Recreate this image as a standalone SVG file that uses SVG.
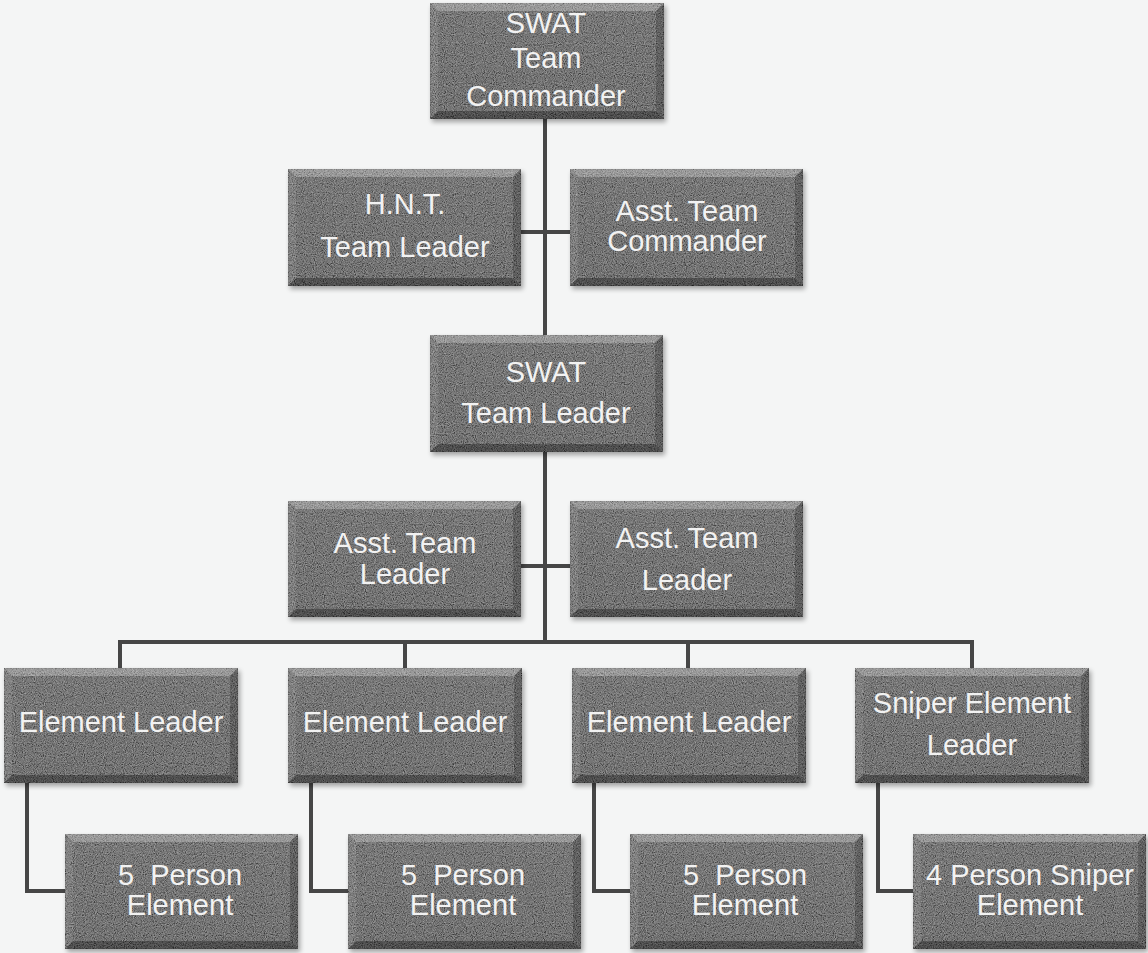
<svg xmlns="http://www.w3.org/2000/svg" width="1148" height="953" viewBox="0 0 1148 953">
<defs>
<filter id="grain" x="0" y="0" width="1" height="1">
<feTurbulence type="fractalNoise" baseFrequency="0.9" numOctaves="2" seed="4" result="n"/>
<feColorMatrix in="n" type="matrix" values="0.7 0.7 0 0 -0.42  0.7 0.7 0 0 -0.42  0.7 0.7 0 0 -0.42  0 0 0 0 0.45" result="g"/>
<feComposite in="g" in2="SourceGraphic" operator="in" result="gi"/>
<feMerge><feMergeNode in="SourceGraphic"/><feMergeNode in="gi"/></feMerge>
</filter>
<filter id="shadow" x="-10%" y="-10%" width="120%" height="130%">
<feGaussianBlur stdDeviation="2.5"/>
</filter>
<linearGradient id="fillg" x1="0" y1="0" x2="0" y2="1">
<stop offset="0" stop-color="#606060"/>
<stop offset="1" stop-color="#4e4e4e"/>
</linearGradient>
</defs>
<style>
.bg{fill:#f4f5f5}
.sh{fill:#000;opacity:0.35;filter:url(#shadow)}
.box{fill:url(#fillg);stroke:#333333;stroke-width:1.5;filter:url(#grain)}
.bt{fill:#ffffff;opacity:0.25}
.bl{fill:#ffffff;opacity:0.08}
.br{fill:#000000;opacity:0.18}
.bb{fill:#000000;opacity:0.30}
.lbl{font-family:"Liberation Sans",Arial,sans-serif;font-size:29px;fill:#f2f2f2;text-anchor:middle}
.con{fill:none;stroke:#464646;stroke-width:4;stroke-linejoin:miter}
</style>
<rect class="bg" x="0" y="0" width="1148" height="953"/>

<g id="connectors">
<path class="con" d="M545,119 V335 M545,452 V643"/>
<path class="con" d="M521,232 H570"/>
<path class="con" d="M521,566 H570"/>
<path class="con" d="M120,668 V642 H972 V668 M405,642 V668 M688,642 V668"/>
<path class="con" d="M27,783 V891 H65"/>
<path class="con" d="M311,783 V891 H348"/>
<path class="con" d="M594,783 V891 H630"/>
<path class="con" d="M878,783 V891 H913"/>
</g>

<g id="n-team-commander">
<rect class="sh" x="432" y="6" width="234" height="116"/>
<rect class="box" x="430" y="3" width="234" height="116"/>
<path class="bt" d="M430,3 h234 l-8,8 h-218 z"/>
<path class="bl" d="M430,3 l8,8 v100 l-8,8 z"/>
<path class="br" d="M664,3 l-8,8 v100 l8,8 z"/>
<path class="bb" d="M430,119 l8,-8 h218 l8,8 z"/>
<text class="lbl" x="546" y="33">SWAT</text>
<text class="lbl" x="546" y="68">Team</text>
<text class="lbl" x="546" y="106">Commander</text>
</g>

<g id="n-hnt">
<rect class="sh" x="290" y="172" width="233" height="117"/>
<rect class="box" x="288" y="169" width="233" height="117"/>
<path class="bt" d="M288,169 h233 l-8,8 h-217 z"/>
<path class="bl" d="M288,169 l8,8 v101 l-8,8 z"/>
<path class="br" d="M521,169 l-8,8 v101 l8,8 z"/>
<path class="bb" d="M288,286 l8,-8 h217 l8,8 z"/>
<text class="lbl" x="405" y="214">H.N.T.</text>
<text class="lbl" x="405" y="257">Team Leader</text>
</g>

<g id="n-asst-commander">
<rect class="sh" x="572" y="172" width="233" height="117"/>
<rect class="box" x="570" y="169" width="233" height="117"/>
<path class="bt" d="M570,169 h233 l-8,8 h-217 z"/>
<path class="bl" d="M570,169 l8,8 v101 l-8,8 z"/>
<path class="br" d="M803,169 l-8,8 v101 l8,8 z"/>
<path class="bb" d="M570,286 l8,-8 h217 l8,8 z"/>
<text class="lbl" x="687" y="221">Asst. Team</text>
<text class="lbl" x="687" y="251">Commander</text>
</g>

<g id="n-team-leader">
<rect class="sh" x="432" y="338" width="233" height="117"/>
<rect class="box" x="430" y="335" width="233" height="117"/>
<path class="bt" d="M430,335 h233 l-8,8 h-217 z"/>
<path class="bl" d="M430,335 l8,8 v101 l-8,8 z"/>
<path class="br" d="M663,335 l-8,8 v101 l8,8 z"/>
<path class="bb" d="M430,452 l8,-8 h217 l8,8 z"/>
<text class="lbl" x="546" y="382">SWAT</text>
<text class="lbl" x="546" y="423">Team Leader</text>
</g>

<g id="n-asst-leader-1">
<rect class="sh" x="290" y="504" width="233" height="116"/>
<rect class="box" x="288" y="501" width="233" height="116"/>
<path class="bt" d="M288,501 h233 l-8,8 h-217 z"/>
<path class="bl" d="M288,501 l8,8 v100 l-8,8 z"/>
<path class="br" d="M521,501 l-8,8 v100 l8,8 z"/>
<path class="bb" d="M288,617 l8,-8 h217 l8,8 z"/>
<text class="lbl" x="405" y="553">Asst. Team</text>
<text class="lbl" x="405" y="584">Leader</text>
</g>

<g id="n-asst-leader-2">
<rect class="sh" x="572" y="504" width="233" height="116"/>
<rect class="box" x="570" y="501" width="233" height="116"/>
<path class="bt" d="M570,501 h233 l-8,8 h-217 z"/>
<path class="bl" d="M570,501 l8,8 v100 l-8,8 z"/>
<path class="br" d="M803,501 l-8,8 v100 l8,8 z"/>
<path class="bb" d="M570,617 l8,-8 h217 l8,8 z"/>
<text class="lbl" x="687" y="548">Asst. Team</text>
<text class="lbl" x="687" y="590">Leader</text>
</g>

<g id="n-element-leader-1">
<rect class="sh" x="6" y="671" width="234" height="115"/>
<rect class="box" x="4" y="668" width="234" height="115"/>
<path class="bt" d="M4,668 h234 l-8,8 h-218 z"/>
<path class="bl" d="M4,668 l8,8 v99 l-8,8 z"/>
<path class="br" d="M238,668 l-8,8 v99 l8,8 z"/>
<path class="bb" d="M4,783 l8,-8 h218 l8,8 z"/>
<text class="lbl" x="121" y="732">Element Leader</text>
</g>

<g id="n-element-leader-2">
<rect class="sh" x="290" y="671" width="234" height="115"/>
<rect class="box" x="288" y="668" width="234" height="115"/>
<path class="bt" d="M288,668 h234 l-8,8 h-218 z"/>
<path class="bl" d="M288,668 l8,8 v99 l-8,8 z"/>
<path class="br" d="M522,668 l-8,8 v99 l8,8 z"/>
<path class="bb" d="M288,783 l8,-8 h218 l8,8 z"/>
<text class="lbl" x="405" y="732">Element Leader</text>
</g>

<g id="n-element-leader-3">
<rect class="sh" x="574" y="671" width="234" height="115"/>
<rect class="box" x="572" y="668" width="234" height="115"/>
<path class="bt" d="M572,668 h234 l-8,8 h-218 z"/>
<path class="bl" d="M572,668 l8,8 v99 l-8,8 z"/>
<path class="br" d="M806,668 l-8,8 v99 l8,8 z"/>
<path class="bb" d="M572,783 l8,-8 h218 l8,8 z"/>
<text class="lbl" x="689" y="732">Element Leader</text>
</g>

<g id="n-sniper-leader">
<rect class="sh" x="857" y="671" width="234" height="115"/>
<rect class="box" x="855" y="668" width="234" height="115"/>
<path class="bt" d="M855,668 h234 l-8,8 h-218 z"/>
<path class="bl" d="M855,668 l8,8 v99 l-8,8 z"/>
<path class="br" d="M1089,668 l-8,8 v99 l8,8 z"/>
<path class="bb" d="M855,783 l8,-8 h218 l8,8 z"/>
<text class="lbl" x="972" y="713">Sniper Element</text>
<text class="lbl" x="972" y="755">Leader</text>
</g>

<g id="n-element-1">
<rect class="sh" x="67" y="837" width="233" height="115"/>
<rect class="box" x="65" y="834" width="233" height="115"/>
<path class="bt" d="M65,834 h233 l-8,8 h-217 z"/>
<path class="bl" d="M65,834 l8,8 v99 l-8,8 z"/>
<path class="br" d="M298,834 l-8,8 v99 l8,8 z"/>
<path class="bb" d="M65,949 l8,-8 h217 l8,8 z"/>
<text class="lbl" x="180" y="885" xml:space="preserve">5  Person</text>
<text class="lbl" x="180" y="915">Element</text>
</g>

<g id="n-element-2">
<rect class="sh" x="350" y="837" width="233" height="115"/>
<rect class="box" x="348" y="834" width="233" height="115"/>
<path class="bt" d="M348,834 h233 l-8,8 h-217 z"/>
<path class="bl" d="M348,834 l8,8 v99 l-8,8 z"/>
<path class="br" d="M581,834 l-8,8 v99 l8,8 z"/>
<path class="bb" d="M348,949 l8,-8 h217 l8,8 z"/>
<text class="lbl" x="463" y="885" xml:space="preserve">5  Person</text>
<text class="lbl" x="463" y="915">Element</text>
</g>

<g id="n-element-3">
<rect class="sh" x="632" y="837" width="233" height="115"/>
<rect class="box" x="630" y="834" width="233" height="115"/>
<path class="bt" d="M630,834 h233 l-8,8 h-217 z"/>
<path class="bl" d="M630,834 l8,8 v99 l-8,8 z"/>
<path class="br" d="M863,834 l-8,8 v99 l8,8 z"/>
<path class="bb" d="M630,949 l8,-8 h217 l8,8 z"/>
<text class="lbl" x="745" y="885" xml:space="preserve">5  Person</text>
<text class="lbl" x="745" y="915">Element</text>
</g>

<g id="n-sniper-element">
<rect class="sh" x="915" y="837" width="233" height="115"/>
<rect class="box" x="913" y="834" width="233" height="115"/>
<path class="bt" d="M913,834 h233 l-8,8 h-217 z"/>
<path class="bl" d="M913,834 l8,8 v99 l-8,8 z"/>
<path class="br" d="M1146,834 l-8,8 v99 l8,8 z"/>
<path class="bb" d="M913,949 l8,-8 h217 l8,8 z"/>
<text class="lbl" x="1030" y="885">4 Person Sniper</text>
<text class="lbl" x="1030" y="915">Element</text>
</g>
</svg>
